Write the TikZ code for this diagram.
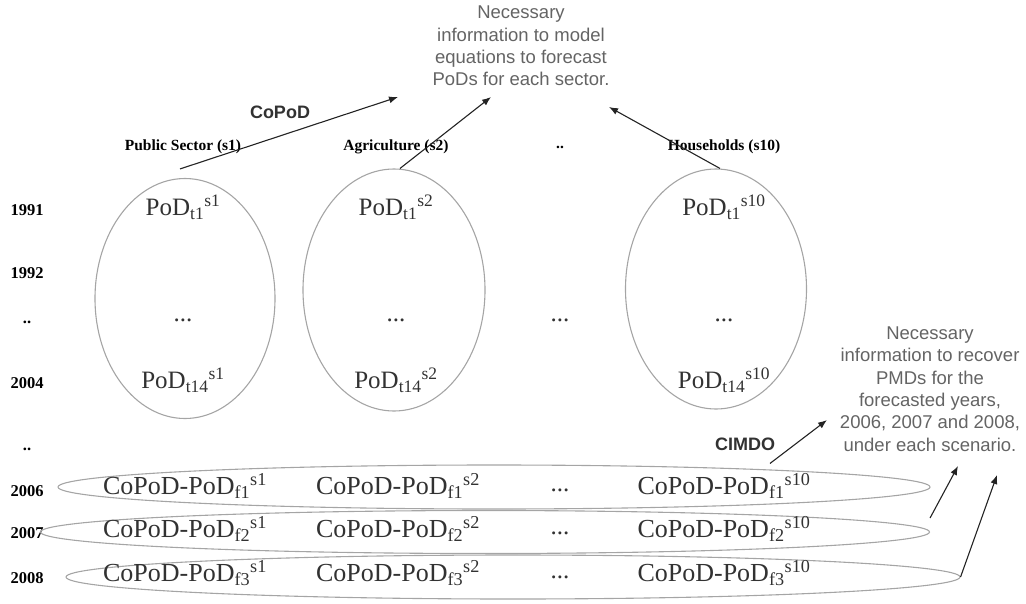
\documentclass[tikz,border=0pt]{standalone}
\usepackage{fontspec}
\setmainfont{Liberation Serif}
\setsansfont{Liberation Sans}
\usetikzlibrary{arrows.meta, positioning, shapes.geometric}
\definecolor{ringgray}{RGB}{165,165,165}
\definecolor{notegray}{RGB}{100,100,100}
\definecolor{inkgray}{RGB}{50,50,50}
\definecolor{arrowgray}{RGB}{35,35,35}

\begin{document}
\begin{tikzpicture}[
  x=1pt, y=-1pt,
  ring/.style={draw=ringgray, ellipse, inner sep=0pt, line width=1.1pt},
  year/.style={font=\fontsize{16.5}{18}\selectfont\bfseries, text=black, inner sep=0pt},
  sector/.style={font=\fontsize{15.5}{17}\selectfont\bfseries, text=black, inner sep=0pt},
  pod/.style={font=\fontsize{25}{28}\selectfont, text=inkgray, inner sep=0pt},
  cpod/.style={font=\fontsize{26}{30}\selectfont, text=inkgray, inner sep=0pt},
  note/.style={font=\sffamily\fontsize{18.5}{22.4}\selectfont, text=notegray, align=center, inner sep=0pt},
  method/.style={font=\sffamily\fontsize{18}{22}\selectfont\bfseries, text=inkgray, inner sep=0pt},
  arr/.style={-{Latex[length=9pt, width=7pt]}, draw=arrowgray, line width=1.1pt}
]
  \useasboundingbox (0,0) rectangle (1026,603);

  % goals of the two estimation steps
  \node[note] (goal) at (521,46) {Necessary\\information to model\\equations to forecast\\PoDs for each sector.};
  \node[note] (recov) at (930,389) {Necessary\\information to recover\\PMDs for the\\forecasted years,\\2006, 2007 and 2008,\\under each scenario.};
  \node[method] (copod) at (280,112) {CoPoD};
  \node[method] (cimdo) at (745,444) {CIMDO};

  % sectors
  \node[sector] (secA) at (183,147) {Public Sector (s1)};
  \node[sector] (secB) at (396,147) {Agriculture (s2)};
  \node[sector] (secdots) at (560,147) {..};
  \node[sector] (secC) at (724,147) {Households (s10)};

  % years
  \foreach \yr/\yy in {1991/210, 1992/273, ../322, 2004/383, ../449, 2006/491, 2007/533, 2008/578}
    \node[year] (yr\yy) at (27,\yy) {\yr};

  % historical PoDs per sector
  \node[ring, minimum width=180, minimum height=240] (colA) at (185,298.5) {};
  \node[ring, minimum width=182, minimum height=242] (colB) at (394,290) {};
  \node[ring, minimum width=181, minimum height=240] (colC) at (716,289) {};

  \node[pod] (podA1) at (183,207) {PoD\textsubscript{t1}\textsuperscript{s1}};
  \node[pod] (podAd) at (183,320) {...};
  \node[pod] (podA2) at (183,380) {PoD\textsubscript{t14}\textsuperscript{s1}};
  \node[pod] (podB1) at (396,207) {PoD\textsubscript{t1}\textsuperscript{s2}};
  \node[pod] (podBd) at (396,320) {...};
  \node[pod] (podB2) at (396,380) {PoD\textsubscript{t14}\textsuperscript{s2}};
  \node[pod] (poddots) at (560,320) {...};
  \node[pod] (podC1) at (724,207) {PoD\textsubscript{t1}\textsuperscript{s10}};
  \node[pod] (podCd) at (724,320) {...};
  \node[pod] (podC2) at (724,380) {PoD\textsubscript{t14}\textsuperscript{s10}};

  % forecasted years
  \node[ring, minimum width=872, minimum height=44] (rowA) at (494,487) {};
  \node[ring, minimum width=889, minimum height=43] (rowB) at (485,532) {};
  \node[ring, minimum width=894, minimum height=44] (rowC) at (513,577) {};

  \foreach \f/\yy in {1/486, 2/529, 3/573} {
    \node[cpod] (cp\f a) at (185,\yy) {CoPoD-PoD\textsubscript{f\f}\textsuperscript{s1}};
    \node[cpod] (cp\f b) at (398,\yy) {CoPoD-PoD\textsubscript{f\f}\textsuperscript{s2}};
    \node[pod] (cp\f d) at (560,\yy+4) {...};
    \node[cpod] (cp\f c) at (724,\yy) {CoPoD-PoD\textsubscript{f\f}\textsuperscript{s10}};
  }

  % arrow targets
  \coordinate (aimA) at (398,97);
  \coordinate (aimB) at (491,97);
  \coordinate (aimC) at (609,107);
  \coordinate (aimD) at (827,420);
  \coordinate (aimE) at (958,466);
  \coordinate (aimF) at (997,475);

  \draw[arr] ([shift={(-5,-9)}]colA.north) -- (aimA);
  \draw[arr] ([shift={(6,0)}]colB.north) -- (aimB);
  \draw[arr] ([shift={(4,0)}]colC.north) -- (aimC);
  \draw[arr] ([shift={(276,-1)}]rowA.north) -- (aimD);
  \draw[arr] ([shift={(0,-14)}]rowB.east) -- (aimE);
  \draw[arr] (rowC.east) -- (aimF);
\end{tikzpicture}
\end{document}
